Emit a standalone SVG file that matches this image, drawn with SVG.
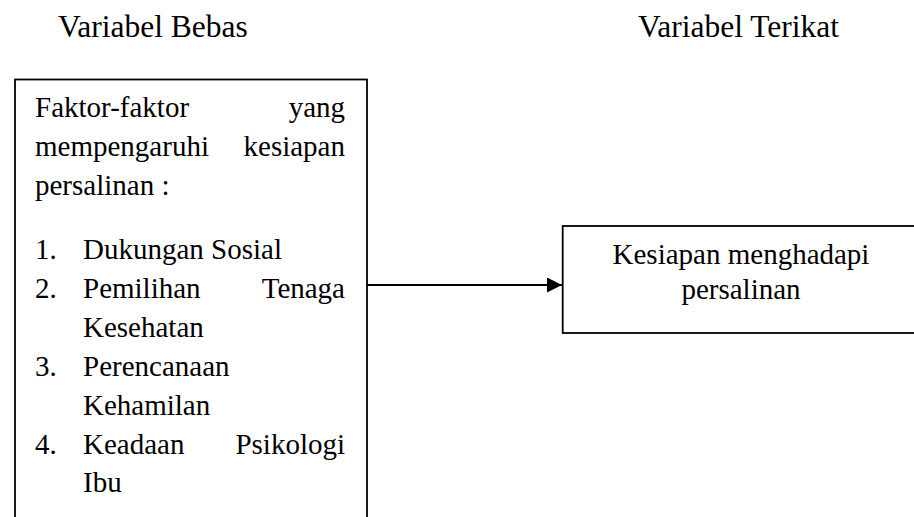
<svg xmlns="http://www.w3.org/2000/svg" width="914" height="517" viewBox="0 0 914 517">
<style>
  .hdr { font-size: 31.5px; }
  .t { font-size: 29px; }
  .box { fill: #fff; stroke: #000; stroke-width: 1.8; }
  .conn { stroke: #000; stroke-width: 2; fill: none; }
</style>
<defs>
  <marker id="arrow" markerWidth="15" markerHeight="15" refX="15" refY="7.5" orient="auto" markerUnits="userSpaceOnUse">
    <polygon points="0,0 15,7.5 0,15" fill="#000"/>
  </marker>
</defs>
<rect width="914" height="517" fill="#fff"/>
<g font-family="'Liberation Serif', 'Times New Roman', 'DejaVu Serif', serif" fill="#000">
<text class="hdr" x="58" y="37">Variabel Bebas</text>
<text class="hdr" x="638" y="37">Variabel Terikat</text>
<g id="node-bebas">
  <rect class="box" x="15" y="79.5" width="352" height="460"/>
  <text class="t" x="35" y="117">Faktor-faktor</text>
  <text class="t" x="345" y="117" text-anchor="end">yang</text>
  <text class="t" x="35" y="156">mempengaruhi</text>
  <text class="t" x="345" y="156" text-anchor="end">kesiapan</text>
  <text class="t" x="35" y="195">persalinan :</text>
  <text class="t" x="35" y="259">1.</text>
  <text class="t" x="83" y="259">Dukungan Sosial</text>
  <text class="t" x="35" y="298">2.</text>
  <text class="t" x="83" y="298">Pemilihan</text>
  <text class="t" x="345" y="298" text-anchor="end">Tenaga</text>
  <text class="t" x="83" y="337">Kesehatan</text>
  <text class="t" x="35" y="376">3.</text>
  <text class="t" x="83" y="376">Perencanaan</text>
  <text class="t" x="83" y="415">Kehamilan</text>
  <text class="t" x="35" y="454">4.</text>
  <text class="t" x="83" y="454">Keadaan</text>
  <text class="t" x="345" y="454" text-anchor="end">Psikologi</text>
  <text class="t" x="83" y="492">Ibu</text>
</g>
<g id="node-terikat">
  <rect class="box" x="562.7" y="226" width="360" height="107"/>
  <text class="t" x="741" y="264" text-anchor="middle">Kesiapan menghadapi</text>
  <text class="t" x="741" y="299" text-anchor="middle">persalinan</text>
</g>
</g>
<g id="connectors">
  <line class="conn" x1="367" y1="285" x2="562" y2="285" marker-end="url(#arrow)"/>
</g>
</svg>
